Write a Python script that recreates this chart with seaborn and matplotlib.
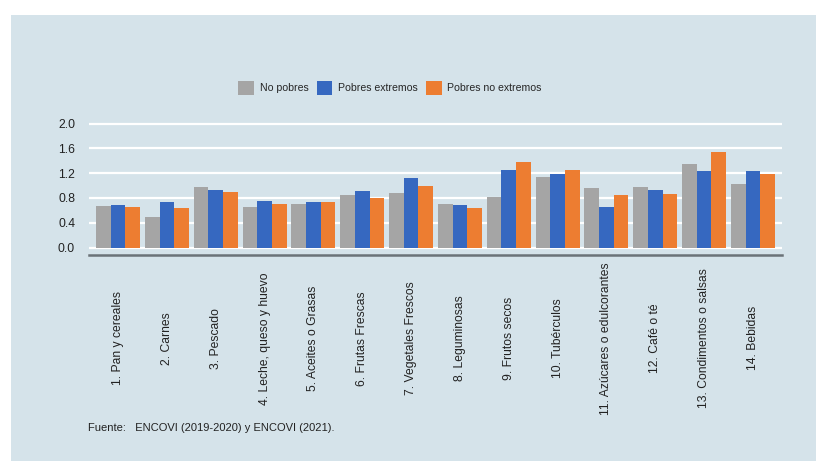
import matplotlib
matplotlib.use("Agg")
import matplotlib.pyplot as plt
import seaborn as sns
import pandas as pd
from matplotlib.patches import Rectangle, Patch

categorias = [
    "1. Pan y cereales", "2. Carnes", "3. Pescado", "4. Leche, queso y huevo",
    "5. Aceites o Grasas", "6. Frutas Frescas", "7. Vegetales Frescos",
    "8. Leguminosas", "9. Frutos secos", "10. Tubérculos",
    "11. Azúcares o edulcorantes", "12. Café o té", "13. Condimentos o salsas",
    "14. Bebidas",
]
grupos = ["No pobres", "Pobres extremos", "Pobres no extremos"]
no_pobres = [0.67, 0.50, 0.97, 0.65, 0.71, 0.84, 0.88, 0.71, 0.82, 1.13, 0.96, 0.97, 1.34, 1.02]
pobres_extremos = [0.69, 0.74, 0.93, 0.75, 0.73, 0.91, 1.12, 0.69, 1.25, 1.18, 0.66, 0.93, 1.23, 1.23]
pobres_no_extremos = [0.66, 0.63, 0.89, 0.70, 0.73, 0.80, 1.00, 0.63, 1.38, 1.25, 0.85, 0.86, 1.54, 1.19]
colores = ["#A5A5A5", "#3668C0", "#ED7D31"]
fondo = "#D5E3EA"

df = pd.DataFrame({
    "categoria": categorias * 3,
    "grupo": [g for g in grupos for _ in categorias],
    "valor": no_pobres + pobres_extremos + pobres_no_extremos,
})

sns.set_style("white")
plt.rcParams["font.family"] = ["Liberation Sans", "DejaVu Sans"]

fig = plt.figure(figsize=(8.16, 4.61), dpi=100)
fig.patch.set_facecolor("white")
fig.patches.append(Rectangle((11 / 816, 0), 1, 1 - 15 / 461, transform=fig.transFigure,
                             facecolor=fondo, edgecolor="none", zorder=-10))

ax = fig.add_axes([89 / 816, (461 - 255) / 461, (782 - 89) / 816, (255 - 122.3) / 461])
ax.set_facecolor(fondo)

sns.barplot(data=df, x="categoria", y="valor", hue="grupo", palette=colores,
            saturation=1, width=0.9, errorbar=None, linewidth=0, ax=ax, zorder=3)

ax.set_ylim(-0.12, 2.02)
ax.set_xlim(-0.594, 13.594)
ax.set_yticks([0.0, 0.4, 0.8, 1.2, 1.6, 2.0])
ax.set_yticklabels([f"{v:.1f}" for v in [0.0, 0.4, 0.8, 1.2, 1.6, 2.0]])
ax.yaxis.grid(True, color="white", linewidth=1.6, zorder=0)
ax.set_axisbelow(True)
ax.set_xlabel("")
ax.set_ylabel("")
for s in ["top", "right", "left"]:
    ax.spines[s].set_visible(False)
ax.spines["bottom"].set_color("#6B7378")
ax.spines["bottom"].set_linewidth(1.8)
ax.tick_params(axis="both", length=0, labelsize=8.7, colors="#222222")
ax.tick_params(axis="y", pad=10)
ax.tick_params(axis="x", pad=60)
ax.set_xticks(range(len(categorias)))
ax.set_xticklabels(categorias, rotation=90, va="center", ha="center")

ax.get_legend().remove()
handles = [Patch(facecolor=c, edgecolor="none") for c in colores]
fig.legend(handles, grupos, loc="center", bbox_to_anchor=(0.478, 1 - 88 / 461), ncol=3,
           frameon=False, fontsize=7.6, handlelength=1.5, handleheight=1.7,
           handletextpad=0.55, columnspacing=0.75)

fig.text(88 / 816, 1 - 428 / 461, "Fuente:   ENCOVI (2019-2020) y ENCOVI (2021).",
         fontsize=8, va="center", ha="left", color="#222222")

fig.savefig("out.png", dpi=100, facecolor=fig.get_facecolor())
